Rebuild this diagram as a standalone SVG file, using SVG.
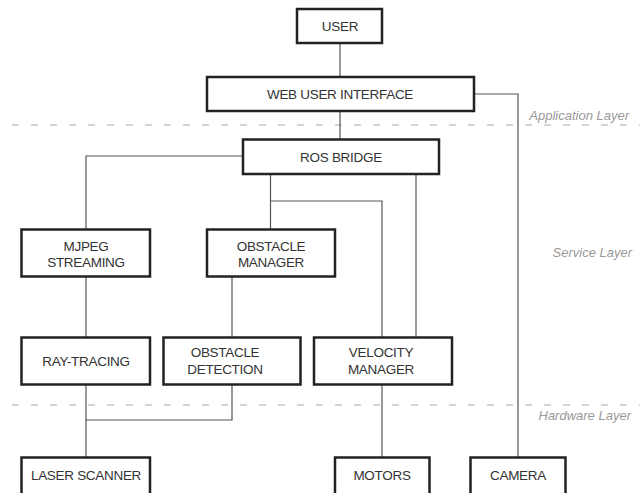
<svg xmlns="http://www.w3.org/2000/svg" width="642" height="493" viewBox="0 0 642 493">
<style>
.box{fill:#fff;stroke:#222;stroke-width:2.5}
.lbl{font-family:"Liberation Sans",Arial,sans-serif;font-size:13.5px;fill:#333;text-anchor:middle;letter-spacing:-0.3px}
.layer{font-family:"Liberation Sans",Arial,sans-serif;font-size:13px;font-style:italic;fill:#999;text-anchor:end}
.conn{fill:none;stroke:#555;stroke-width:1.2}
.dash{fill:none;stroke:#aaa;stroke-width:1.2;stroke-dasharray:7 12}
</style>
<rect width="642" height="493" fill="#fff"/>
<g id="layers">
<line class="dash" x1="12" y1="125" x2="640" y2="125"/>
<line class="dash" x1="12" y1="405" x2="640" y2="405"/>
<text class="layer" x="629" y="120">Application Layer</text>
<text class="layer" x="632" y="257">Service Layer</text>
<text class="layer" x="631" y="420">Hardware Layer</text>
</g>
<g id="connectors">
<path class="conn" d="M340 43V76"/>
<path class="conn" d="M340 111V139"/>
<path class="conn" d="M474 94H518V457"/>
<path class="conn" d="M242 156H86V230"/>
<path class="conn" d="M270.5 174V230"/>
<path class="conn" d="M270.5 201H382V337"/>
<path class="conn" d="M416 174V337"/>
<path class="conn" d="M86 277V337"/>
<path class="conn" d="M232 277V337"/>
<path class="conn" d="M86 385V457"/>
<path class="conn" d="M232 385V420H86"/>
<path class="conn" d="M382 385V457"/>
</g>
<g id="user"><rect class="box" x="297" y="9" width="85" height="34"/><text class="lbl" x="340" y="31">USER</text></g>
<g id="web-ui"><rect class="box" x="207" y="77" width="267" height="34"/><text class="lbl" x="340" y="98.5">WEB USER INTERFACE</text></g>
<g id="ros-bridge"><rect class="box" x="243" y="139.5" width="196" height="34.5"/><text class="lbl" x="341" y="161.5">ROS BRIDGE</text></g>
<g id="mjpeg"><rect class="box" x="21.5" y="229.5" width="128.5" height="47"/><text class="lbl" x="86" y="251">MJPEG</text><text class="lbl" x="86" y="267">STREAMING</text></g>
<g id="obstacle-manager"><rect class="box" x="207" y="229.5" width="128" height="47"/><text class="lbl" x="271" y="251">OBSTACLE</text><text class="lbl" x="271" y="267">MANAGER</text></g>
<g id="ray-tracing"><rect class="box" x="21.5" y="337.5" width="128.5" height="47"/><text class="lbl" x="86" y="366">RAY-TRACING</text></g>
<g id="obstacle-detection"><rect class="box" x="163.5" y="337.5" width="137" height="47"/><text class="lbl" x="225" y="357">OBSTACLE</text><text class="lbl" x="225" y="374">DETECTION</text></g>
<g id="velocity-manager"><rect class="box" x="314" y="337.5" width="138" height="47"/><text class="lbl" x="381" y="357">VELOCITY</text><text class="lbl" x="381" y="374">MANAGER</text></g>
<g id="laser-scanner"><rect class="box" x="21.5" y="457.5" width="128.5" height="45"/><text class="lbl" x="86" y="480">LASER SCANNER</text></g>
<g id="motors"><rect class="box" x="335" y="457.5" width="94.5" height="45"/><text class="lbl" x="382" y="480">MOTORS</text></g>
<g id="camera"><rect class="box" x="470.5" y="457.5" width="95" height="45"/><text class="lbl" x="518" y="480">CAMERA</text></g>
</svg>
